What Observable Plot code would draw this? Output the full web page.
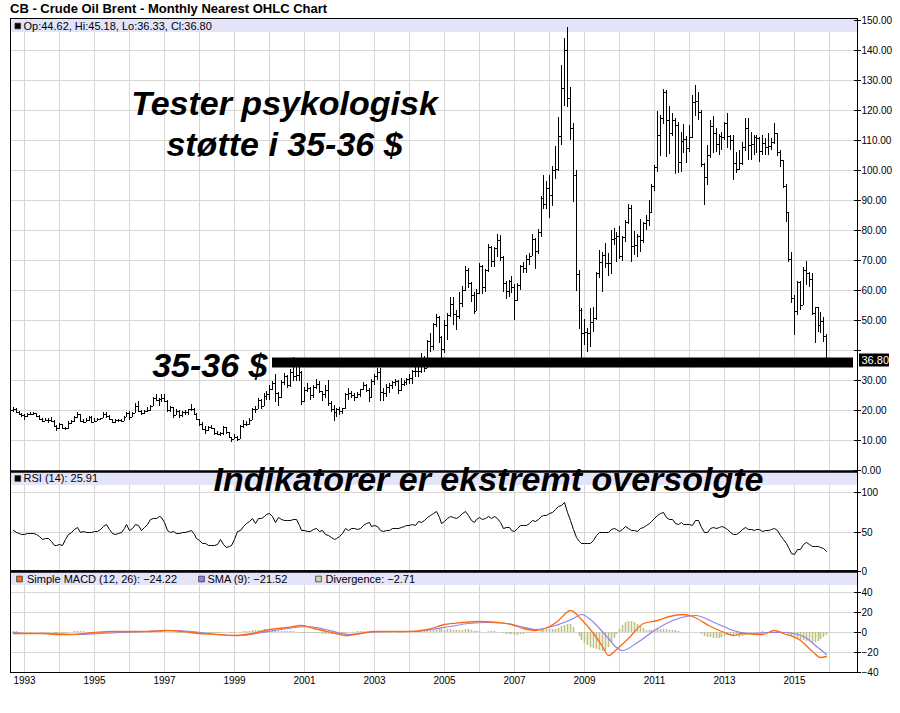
<!DOCTYPE html>
<html><head><meta charset="utf-8">
<script src="https://cdn.jsdelivr.net/npm/d3@7"></script>
<script src="https://cdn.jsdelivr.net/npm/@observablehq/plot@0.6"></script>
<style>
body{margin:0;background:#fff;}
#wrap{position:relative;width:900px;height:713px;overflow:hidden;font-family:'Liberation Sans',Arial,sans-serif;}
#title{position:absolute;left:10px;top:1px;font-size:13px;font-weight:bold;color:#000;white-space:nowrap;}
#wrap svg{position:absolute;left:0;top:0;}
</style></head><body>
<div id="wrap"><div id="title"></div></div>
<script>
// ---------------- DATA ----------------
const titleText = "CB - Crude Oil Brent - Monthly Nearest OHLC Chart";
const startMonth = "1992-09";
const opens = [
 19.9,20.4,19.4,18.8,
 18.2,18.0,18.6,18.8,18.9,18.0,17.1,16.5,16.8,16.8,16.5,14.6,
 13.9,15.2,13.9,13.9,15.6,16.2,17.6,18.6,16.4,16.1,16.6,17.8,
 15.9,16.4,17.1,17.2,18.8,17.9,16.9,16.1,16.6,16.8,16.4,17.8,
 19.1,17.8,19.0,21.2,19.6,19.0,19.6,20.0,21.4,24.0,23.5,23.7,
 24.0,23.0,20.0,20.9,18.5,19.7,18.2,19.3,19.5,20.3,20.3,18.8,
 16.9,15.4,13.7,13.3,14.3,14.1,12.4,12.0,12.2,14.2,12.6,10.9,
 10.3,11.1,10.4,14.6,15.5,15.2,16.8,20.2,20.5,23.2,21.4,24.7,
 25.2,27.1,29.0,25.6,24.2,29.5,31.5,28.3,32.7,31.2,31.6,32.7,
 23.0,26.6,27.3,25.1,27.6,28.8,26.2,25.5,26.8,22.5,20.4,19.2,
 20.4,19.6,20.6,25.5,25.7,24.9,24.3,25.4,26.9,28.4,26.8,24.2,
 29.7,31.3,32.8,26.0,25.6,27.6,28.4,29.3,29.7,26.8,28.8,29.3,
 30.2,30.5,33.0,33.0,33.0,37.4,33.9,43.1,41.5,48.8,50.9,44.4,
 40.5,48.2,51.8,55.4,52.0,51.2,55.6,59.9,66.7,62.4,58.2,53.1,
 58.9,67.9,61.1,66.6,74.3,69.8,73.9,76.6,71.0,62.5,59.6,63.0,
 61.0,56.6,61.8,68.0,67.4,70.2,71.4,77.1,73.0,79.2,90.8,88.7,
 93.9,91.8,100.1,100.3,111.4,127.4,140.0,123.9,114.1,98.2,65.3,53.5,
 45.6,45.9,45.6,49.2,50.8,65.6,69.3,71.7,69.0,69.1,76.9,77.3,
 77.9,71.2,77.6,82.7,87.4,74.6,75.0,78.0,76.7,82.3,83.2,85.9,
 94.8,101.0,111.8,117.4,125.9,116.7,112.5,116.7,114.9,102.8,109.6,110.5,
 107.4,111.0,122.7,122.9,119.5,101.9,97.8,104.9,114.6,112.4,108.7,111.2,
 111.1,115.6,111.4,110.0,102.4,100.4,102.2,107.7,114.0,108.4,108.8,110.9,
 110.8,106.4,109.1,107.8,108.1,109.4,112.4,106.0,103.2,94.7,85.9,70.2,
 57.3,53.0,62.6,55.1,66.8,65.6,63.6,52.2,54.2,48.4,49.6,44.62
];
const highs = [
 20.9,20.6,19.7,19.0,
 18.6,19.0,19.2,19.3,19.1,18.2,17.4,17.4,17.2,17.7,16.6,14.9,
 15.6,15.4,14.3,16.2,16.8,17.9,19.2,18.8,16.9,17.4,18.0,17.9,
 17.3,17.4,17.5,19.5,19.2,18.3,16.9,16.9,17.0,16.9,18.0,19.4,
 19.6,19.4,22.3,23.0,19.9,19.9,21.0,21.6,24.5,25.4,24.0,25.2,
 25.2,23.3,21.2,20.9,20.3,19.9,19.6,20.0,20.4,21.9,20.7,18.9,
 17.0,15.9,14.8,14.6,15.1,14.1,13.0,12.6,14.7,14.2,12.8,11.1,
 12.1,11.3,14.9,16.7,16.4,17.3,20.6,21.3,24.1,23.8,25.6,26.2,
 28.3,29.6,32.0,25.9,30.1,32.4,31.7,33.6,37.8,34.2,34.8,33.0,
 27.8,29.1,27.6,28.2,30.2,29.6,26.3,28.2,29.9,22.9,21.8,20.6,
 21.0,20.8,25.7,27.5,26.4,25.6,25.9,27.0,29.5,28.8,27.2,30.2,
 32.0,34.0,34.0,27.2,28.6,29.1,29.6,30.3,30.0,30.6,30.0,30.8,
 32.0,33.3,34.5,34.6,39.0,38.0,43.3,45.6,48.9,52.0,51.5,44.8,
 49.9,52.3,57.7,57.7,53.3,59.3,61.5,68.0,67.4,62.8,59.3,60.3,
 68.9,68.2,67.0,75.2,74.8,74.5,78.6,78.3,71.3,62.9,63.2,64.8,
 62.0,62.4,68.2,69.3,71.6,72.4,78.7,77.2,80.3,91.3,98.5,96.2,
 98.5,101.4,108.0,117.6,135.1,143.9,147.5,127.8,115.6,100.0,66.6,54.0,
 50.5,47.5,53.9,54.4,66.0,73.5,72.8,75.7,72.4,80.0,80.8,79.2,
 81.2,78.0,83.2,88.8,88.3,79.6,78.6,83.6,82.7,85.0,89.9,95.3,
 101.7,119.8,118.4,127.0,126.6,121.5,119.0,117.4,115.9,112.7,115.4,111.2,
 115.0,125.0,128.4,126.1,120.0,102.2,108.3,116.7,117.9,114.0,112.0,112.8,
 116.1,118.9,111.7,111.7,106.1,106.7,109.5,117.2,117.3,112.8,111.7,111.7,
 111.0,111.7,110.6,112.2,110.6,115.7,112.4,106.6,103.5,95.2,86.0,72.8,
 58.4,63.0,63.0,67.8,69.6,66.1,65.6,54.5,54.2,52.8,51.1,45.18
];
const lows = [
 19.5,19.0,18.6,17.6,
 16.8,17.8,18.2,18.3,17.9,16.8,16.0,16.3,15.8,16.2,14.3,13.1,
 13.6,13.6,13.2,13.7,15.4,16.0,17.4,16.2,15.6,15.9,16.5,15.6,
 15.9,16.3,16.7,17.2,17.5,16.6,15.6,15.8,16.1,15.9,16.3,17.8,
 16.6,17.6,18.9,19.2,18.3,18.7,19.2,19.7,21.3,23.0,21.4,22.6,
 22.6,19.4,19.4,17.3,18.4,17.4,17.8,18.3,18.3,19.7,18.4,16.7,
 14.8,13.5,12.1,13.1,13.6,11.6,11.7,11.4,11.8,12.1,10.6,9.5,
 10.2,9.8,10.4,14.0,14.7,15.0,16.7,19.1,20.3,20.5,21.3,23.4,
 23.4,26.6,22.6,21.4,24.0,28.3,27.3,27.8,29.8,29.6,29.6,21.8,
 22.7,26.1,23.3,24.0,27.1,25.6,23.1,24.1,21.4,19.3,16.5,17.7,
 18.3,18.6,20.2,23.2,24.0,22.9,23.9,24.4,26.6,26.1,22.6,24.0,
 28.3,29.9,23.0,23.0,24.4,25.6,27.0,28.0,25.5,26.5,27.9,28.4,
 28.6,28.6,30.9,31.0,32.5,32.6,33.9,39.4,40.0,47.6,42.4,37.5,
 39.0,43.4,51.1,48.5,46.7,50.5,54.2,59.6,60.6,56.0,52.0,53.0,
 58.7,58.6,59.5,66.0,67.6,67.6,71.0,69.6,59.5,57.0,57.8,59.0,
 50.0,56.3,60.0,65.6,65.6,68.2,71.3,67.0,72.0,77.6,87.0,86.9,
 84.1,88.0,97.1,99.8,108.3,121.3,120.9,110.0,89.4,59.6,47.0,36.2,
 41.6,39.4,41.0,46.0,50.1,64.0,59.2,67.3,64.6,65.4,75.1,69.5,
 70.2,69.6,76.0,82.1,69.3,71.6,71.1,72.8,75.6,80.1,81.3,85.6,
 92.9,99.5,104.6,115.5,104.2,105.4,111.4,98.7,98.9,99.3,105.6,102.2,
 106.0,110.7,118.0,116.7,101.1,88.3,95.0,103.9,105.6,106.1,105.0,106.7,
 110.0,107.3,106.7,96.7,98.9,100.0,101.7,106.5,103.4,103.4,105.0,105.6,
 102.8,105.0,105.0,105.0,106.7,108.8,104.8,101.1,93.9,82.8,69.5,55.6,
 45.0,51.7,53.3,55.0,61.7,61.1,51.7,42.2,46.1,45.6,42.8,36.33
];
const closes = [
 20.4,19.4,18.8,18.2,
 18.0,18.6,18.8,18.9,18.0,17.1,16.5,16.8,16.8,16.5,14.6,13.9,
 15.2,13.9,13.9,15.6,16.2,17.6,18.6,16.4,16.1,16.6,17.8,15.9,
 16.4,17.1,17.2,18.8,17.9,16.9,16.1,16.6,16.8,16.4,17.8,19.1,
 17.8,19.0,21.2,19.6,19.0,19.6,20.0,21.4,24.0,23.5,23.7,24.0,
 23.0,20.0,20.9,18.5,19.7,18.2,19.3,19.5,20.3,20.3,18.8,16.9,
 15.4,13.7,13.3,14.3,14.1,12.4,12.0,12.2,14.2,12.6,10.9,10.3,
 11.1,10.4,14.6,15.5,15.2,16.8,20.2,20.5,23.2,21.4,24.7,25.2,
 27.1,29.0,25.6,24.2,29.5,31.5,28.3,32.7,31.2,31.6,32.7,23.0,
 26.6,27.3,25.1,27.6,28.8,26.2,25.5,26.8,22.5,20.4,19.2,20.4,
 19.6,20.6,25.5,25.7,24.9,24.3,25.4,26.9,28.4,26.8,24.2,29.7,
 31.3,32.8,26.0,25.6,27.6,28.4,29.3,29.7,26.8,28.8,29.3,30.2,
 30.5,33.0,33.0,33.0,37.4,33.9,43.1,41.5,48.8,50.9,44.4,40.5,
 48.2,51.8,55.4,52.0,51.2,55.6,59.9,66.7,62.4,58.2,53.1,58.9,
 67.9,61.1,66.6,74.3,69.8,73.9,76.6,71.0,62.5,59.6,63.0,61.0,
 56.6,61.8,68.0,67.4,70.2,71.4,77.1,73.0,79.2,90.8,88.7,93.9,
 91.8,100.1,100.3,111.4,127.4,140.0,123.9,114.1,98.2,65.3,53.5,45.6,
 45.9,45.6,49.2,50.8,65.6,69.3,71.7,69.0,69.1,76.9,77.3,77.9,
 71.2,77.6,82.7,87.4,74.6,75.0,78.0,76.7,82.3,83.2,85.9,94.8,
 101.0,111.8,117.4,125.9,116.7,112.5,116.7,114.9,102.8,109.6,110.5,107.4,
 111.0,122.7,122.9,119.5,101.9,97.8,104.9,114.6,112.4,108.7,111.2,111.1,
 115.6,111.4,110.0,102.4,100.4,102.2,107.7,114.0,108.4,108.8,110.9,110.8,
 106.4,109.1,107.8,108.1,109.4,112.4,106.0,103.2,94.7,85.9,70.2,57.3,
 53.0,62.6,55.1,66.8,65.6,63.6,52.2,54.2,48.4,49.6,44.6,36.80
];
const rsiValues = [
 52,49,47.5,46.5,47,48,48.7,48.5,47,44,
 41,42,42,38,33.5,32.5,33.7,32.5,41,46.5,
 49,53,56,49.5,50.2,50,49.5,50,50.4,50.4,
 53,57,60,53,48,47,47.5,50,54,59.5,
 51.5,55,60,58,52.5,56,59.5,66,67.5,67,
 69.5,68,62,51.5,49.5,51,48,48.5,49,49,
 51,52,47,41.5,38.7,36,35,33.5,32.3,32.6,
 34.5,40.5,33.8,31,31.3,33.5,40,51,52.5,56.5,
 60.5,63,66.5,60.5,67,67.5,69,71.7,73.3,70,
 62.5,68,65.7,64,64.5,65,65.3,65.5,58,51.5,
 52.2,50.5,50.5,53,54,51,51.5,47,45.3,42.5,
 41,41.8,44,48,54,52,55,55,53.3,55,
 58.8,61.2,62.3,57.5,57.8,56.7,52.5,51,52.3,52,
 54,54,54.8,55.7,57,58,58.5,59.7,58.2,63.5,
 61.5,64,68,71.5,74,76,68.7,61,63.5,66.5,
 70,68,67,70,74,76,70.5,65,61.5,65.3,
 68.5,65.5,66.5,69,67.2,69.3,67,62.3,55,55.5,
 55.5,52.5,50.7,54.5,57.7,58.7,58.7,60.7,64.7,63.5,
 65.5,70,70.8,71.5,73.6,74.2,78,81.7,83.6,87,
 75.3,64,53,43.5,38,35.7,35.3,35.4,36,39.3,
 46,49.5,50,49.6,50,52.6,54.5,53.2,50.6,53,
 56.7,55,51.7,52,51.2,54.2,55.4,57.8,60.3,63.5,
 67,70.5,73.6,74.8,68.3,65.2,65.3,60.3,59,61.5,
 60,59,60,58.5,65,64.2,56,49.5,50,54.7,
 56,54.7,55.7,57.2,55.3,53,50,47.2,46.5,48.8,
 53,56.3,53.2,52.7,52.2,52.7,53.3,50.3,52.3,51.5,
 52.7,55,51.5,46,40.3,35.2,29.8,23.2,20.9,28,
 27.5,34.3,36.6,34.2,31.5,31.4,31.9,30,29.2,25.91
];
const divergenceValues = [
 1.0,0.8,0.5,0.2,
 0,-0.3,-0.5,-0.4,-0.3,-0.3,-0.5,-0.6,-0.5,-0.4,-0.6,-0.9,
 -1.0,-0.9,-0.6,-0.2,0.3,0.7,1.0,0.9,0.6,0.4,0.3,0.2,
 0.1,0.1,0.2,0.4,0.4,0.1,-0.2,-0.3,-0.3,-0.2,0,0.3,
 0.4,0.5,0.7,0.7,0.5,0.4,0.4,0.5,0.8,1.0,1.0,0.9,
 0.6,0.2,-0.1,-0.4,-0.5,-0.6,-0.6,-0.5,-0.4,-0.3,-0.4,-0.7,
 -1.0,-1.2,-1.2,-1.0,-0.8,-0.8,-0.7,-0.6,-0.4,-0.3,-0.4,-0.5,
 -0.5,-0.4,0.1,0.6,1.0,1.4,1.9,2.2,2.5,2.5,2.6,2.5,
 2.4,2.2,1.6,1.0,0.9,1.0,0.8,0.8,0.7,0.5,0.3,-0.5,
 -0.8,-1.1,-1.4,-1.4,-1.3,-1.4,-1.5,-1.6,-2.0,-2.2,-2.4,-2.2,
 -1.9,-1.6,-0.8,-0.2,0.2,0.5,0.8,1.1,1.4,1.4,1.1,1.2,
 1.4,1.5,0.9,0.2,-0.2,-0.4,-0.4,-0.4,-0.6,-0.6,-0.4,-0.2,
 0,0.4,0.6,0.8,1.2,1.2,1.8,2.2,3.0,3.6,3.3,2.6,
 2.5,2.6,2.8,2.5,1.9,2.0,2.2,2.8,2.6,2.0,1.0,0.6,
 0.7,0.4,0.4,0.8,0.8,0.6,0.5,0.2,-0.8,-1.8,-2.2,-2.4,
 -2.8,-2.7,-2.0,-1.6,-1.2,-1.0,-0.3,-0.2,0.3,1.6,2.3,2.8,
 3.0,3.4,3.5,4.5,6.0,7.5,8.0,8.5,5.0,0.5,-4.0,-7.5,
 -10.5,-12.5,-14.5,-16.0,-17.0,-18.0,-18.5,-19.0,-15.0,-10.0,-6.0,-2.0,
 3.0,7.0,10.0,11.5,11.5,10.5,8.5,6.0,4.0,2.5,2.0,2.0,
 2.5,3.0,3.2,3.5,3.0,2.5,2.2,2.0,1.0,0.5,0.3,0.2,
 0,0.2,0.5,0.3,-1.5,-3.5,-4.5,-5.0,-5.5,-6.0,-5.5,-4.5,
 -3.5,-2.5,-2.5,-3.5,-4.0,-4.5,-3.5,-2.5,-1.5,-0.8,-0.4,0.2,
 0.4,0.6,0.4,0.3,0.3,0.5,0.8,0.6,0.2,-0.8,-2.2,-4.0,
 -5.5,-6.5,-7.5,-8.0,-8.5,-9.0,-9.5,-10.0,-9.0,-7.0,-5.0,-2.71
];
const macdMonths = ["1992-09","1993-01","1993-07","1994-01","1994-05","1995-01","1995-07","1996-01","1996-07","1997-01","1997-07","1998-01","1998-07","1999-01","1999-07","2000-01","2000-07","2000-12","2001-04","2001-10","2002-03","2002-08","2003-01","2003-07","2004-01","2004-07","2005-01","2005-07","2006-01","2006-07","2006-12","2007-04","2007-08","2008-01","2008-04","2008-08","2008-12","2009-04","2009-07","2009-09","2009-12","2010-04","2010-09","2011-02","2011-06","2011-11","2012-02","2012-08","2013-01","2013-04","2013-07","2014-02","2014-06","2014-09","2015-03","2015-07","2015-10","2015-12"];
const macdValues = [-0.5,-1.0,-0.5,-1.5,-1.5,-0.3,0.7,0.8,1.2,2.3,1.5,-0.7,-2.0,-3.0,-0.5,3.0,5.5,7.0,4.5,0,-2.5,-1.0,1.5,1.5,1.5,3.5,8.0,10.0,11.0,10.5,8.0,4.0,1.7,6.0,12.5,22.0,12.7,-0.7,-14,-23.3,-17.3,-5.7,9.3,12.0,16.0,18.3,16.0,6.0,0.5,-3.3,-0.7,-1.7,2.0,-0.7,-8.3,-19.0,-24.7,-24.22];
const signalMonths = ["1992-09","1993-03","1993-10","1994-06","1995-03","1995-10","1996-07","1997-03","1997-10","1998-07","1999-03","1999-10","2000-05","2001-02","2001-08","2002-04","2002-11","2003-07","2004-03","2004-10","2005-03","2005-09","2006-04","2006-10","2007-03","2007-08","2008-04","2008-09","2008-12","2009-03","2009-06","2009-09","2009-12","2010-02","2010-07","2011-02","2011-08","2012-03","2012-10","2013-05","2013-09","2014-04","2014-09","2015-04","2015-08","2015-12"];
const signalValues = [-0.3,-0.7,-1.0,-1.6,-0.5,0.5,0.8,1.8,0.8,-1.5,-2.8,0.3,3.5,6.5,3.0,-2.0,0.0,1.5,1.5,4.5,6.0,9.0,10.3,9.3,6.5,3.3,7.7,14,17.7,13,4.3,-6,-14.7,-18,-10,4.3,12.7,16.7,9.3,1,-0.7,0,0.3,-4,-13.3,-21.52];

const priceTicks = [0,10,20,30,40,50,60,70,80,90,100,110,120,130,140,150];
const rsiTicks = [0,50,100];
const macdTicks = [-40,-20,0,20,40];
const gridYears = [1993,1994,1995,1996,1997,1998,1999,2000,2001,2002,2003,2004,2005,2006,2007,2008,2009,2010,2011,2012,2013,2014,2015,2016];
const labelYears = [1993,1995,1997,1999,2001,2003,2005,2007,2009,2011,2013,2015];
const legendPrice = "Op:44.62, Hi:45.18, Lo:36.33, Cl:36.80";
const legendRsi = "RSI (14): 25.91";
const legendMacd = ["Simple MACD (12, 26): \u221224.22", "SMA (9): \u221221.52", "Divergence: \u22122.71"];
const lastPriceLabel = "36.80";
const supportLevel = 36, supportFrom = "2000-02", supportTo = "2016-09";
const headlineNotes = [
  {month: "2000-06", value: 122, text: "Tester psykologisk"},
  {month: "2000-06", value: 108.3, text: "st\u00f8tte i 35-36 $"}
];
const levelNotes = [{month: "2000-01", value: 34.7, text: "35-36 $"}];
const rsiNotes = [{month: "2006-04", value: 114.6, text: "Indikatorer er ekstremt oversolgte"}];

// ---------------- BUILD ----------------
document.getElementById("title").textContent = titleText;
const FONT = "'Liberation Sans', Arial, sans-serif";
const GRID = "#d6d6d6", BAND = "#e4e4f9";
const parseMonth = d3.utcParse("%Y-%m");
const t0 = parseMonth(startMonth);
const bars = closes.map((c, i) => ({date: d3.utcMonth.offset(t0, i), open: opens[i], high: highs[i], low: lows[i], close: c, rsi: rsiValues[i], div: divergenceValues[i]}));
const last = bars[bars.length - 1];
const macdPts = macdMonths.map((m, i) => ({date: parseMonth(m), v: macdValues[i]}));
const sigPts = signalMonths.map((m, i) => ({date: parseMonth(m), v: signalValues[i]}));
const xDomain = [new Date(Date.UTC(1992, 7, 3)), new Date(Date.UTC(2016, 9, 16))];
const gridDates = gridYears.map(y => new Date(Date.UTC(y, 0, 1)));
const labelDates = labelYears.map(y => new Date(Date.UTC(y, 0, 1)));

// panel geometry (page pixels)
const G = {
  price: {top: 18, bottom: 471, zero: 470, ppu: 3},
  rsi: {top: 471, bottom: 571, zero: 571, ppu: 0.79},
  macd: {top: 571, bottom: 672, zero: 632, ppu: 1}
};
const val = (g, px) => (g.zero - px) / g.ppu;
const yDom = g => [val(g, g.bottom), val(g, g.top)];
const minus = v => v < 0 ? "\u2212" + Math.abs(v) : String(v);

function band(g) {
  return Plot.rect([0], {x1: () => xDomain[0], x2: () => xDomain[1], y1: () => val(g, g.top + 14), y2: () => val(g, g.top + 1), fill: BAND});
}
function square(dx, dy, fill) {
  return Plot.dot([0], {frameAnchor: "top-left", dx, dy, symbol: "square", r: 3.2, fill, stroke: "#333", strokeWidth: 0.8});
}
function label(text, dx, dy) {
  return Plot.text([text], {frameAnchor: "top-left", dx, dy, text: d => d, textAnchor: "start", lineAnchor: "middle", fontSize: 11, fill: "black"});
}
function innerTicks(ticks) {
  return Plot.ruleY(ticks, {x1: () => xDomain[1], x2: () => xDomain[1], insetLeft: -3, stroke: "black"});
}
function make(g, marks, yOpts, xOpts) {
  return Plot.plot({
    width: 900, height: 713,
    marginLeft: 10, marginRight: 43, marginTop: g.top, marginBottom: 713 - g.bottom,
    style: {background: "transparent", fontFamily: FONT, fontSize: "10px", color: "black", overflow: "visible"},
    x: Object.assign({type: "utc", domain: xDomain, round: true, axis: null}, xOpts || {}),
    y: Object.assign({domain: yDom(g), round: true, axis: "right", tickSize: 3, tickPadding: 1, label: null}, yOpts),
    marks
  });
}

const wrap = document.getElementById("wrap");
const bold = {fontSize: 34, fontWeight: "bold", fontStyle: "italic", fill: "black", fontFamily: FONT, lineAnchor: "middle"};

// Price panel
const pricePlot = make(G.price, [
  Plot.ruleX(gridDates, {stroke: GRID}),
  Plot.ruleY(priceTicks.filter(v => v > 0 && v < 150), {stroke: GRID}),
  band(G.price),
  square(7.3, 7.5, "black"),
  label(legendPrice, 13, 7.5),
  Plot.ruleX(bars, {x: "date", y1: "low", y2: "high", stroke: "black"}),
  Plot.ruleY(bars, {x1: "date", x2: "date", y: "open", insetLeft: -2, stroke: "black"}),
  Plot.ruleY(bars, {x1: "date", x2: "date", y: "close", insetRight: -2, stroke: "black"}),
  Plot.ruleY([supportLevel], {x1: () => parseMonth(supportFrom), x2: () => parseMonth(supportTo), stroke: "black", strokeWidth: 10}),
  Plot.text(headlineNotes, {x: d => parseMonth(d.month), y: "value", text: "text", textAnchor: "middle", ...bold}),
  Plot.text(levelNotes, {x: d => parseMonth(d.month), y: "value", text: "text", textAnchor: "end", dx: -2, ...bold}),
  Plot.rect([last], {x1: () => xDomain[1], x2: () => xDomain[1], y1: "close", y2: "close", insetLeft: 2, insetRight: -32, insetTop: -6.5, insetBottom: -6.5, fill: "black"}),
  Plot.text([last], {x: () => xDomain[1], y: "close", text: () => lastPriceLabel, dx: 4, textAnchor: "start", fill: "white", fontSize: 11}),
  Plot.frame({stroke: "black"}),
  innerTicks(priceTicks)
], {ticks: priceTicks, tickFormat: v => Math.abs(v - last.close) < 5 ? "" : d3.format(".2f")(v)});
wrap.appendChild(pricePlot);

// RSI panel
const rsiPlot = make(G.rsi, [
  Plot.ruleX(gridDates, {stroke: GRID}),
  Plot.ruleY([50, 100], {stroke: GRID}),
  band(G.rsi),
  square(7.3, 7, "black"),
  label(legendRsi, 13, 7),
  Plot.line(bars, {x: "date", y: "rsi", stroke: "black", strokeWidth: 1}),
  Plot.frame({stroke: "black"}),
  Plot.ruleY([yDom(G.rsi)[1]], {stroke: "black", strokeWidth: 2.5}),
  Plot.ruleY([0], {stroke: "black", strokeWidth: 2.5}),
  innerTicks(rsiTicks),
  Plot.text(rsiNotes, {x: d => parseMonth(d.month), y: "value", text: "text", textAnchor: "middle", ...bold})
], {ticks: rsiTicks, tickFormat: minus});
wrap.appendChild(rsiPlot);

// MACD panel
const macdPlot = make(G.macd, [
  Plot.ruleX(gridDates, {stroke: GRID}),
  Plot.ruleY([-20, 0, 20, 40], {stroke: GRID}),
  band(G.macd),
  square(9, 7.5, "#ff6a10"), label(legendMacd[0], 16.5, 7.5),
  square(191, 7.5, "#8f80f0"), label(legendMacd[1], 197, 7.5),
  square(308, 7.5, "#d6d6ae"), label(legendMacd[2], 315, 7.5),
  Plot.ruleX(bars, {x: "date", y1: 0, y2: "div", stroke: "#bebe84", strokeWidth: 1.6}),
  Plot.line(sigPts, {x: "date", y: "v", stroke: "#8f80f0", strokeWidth: 1.2, curve: "monotone-x"}),
  Plot.line(macdPts, {x: "date", y: "v", stroke: "#ff6a10", strokeWidth: 1.3, curve: "monotone-x"}),
  Plot.frame({stroke: "black"}),
  Plot.ruleY([yDom(G.macd)[1]], {stroke: "black", strokeWidth: 2.5}),
  innerTicks(macdTicks)
], {ticks: macdTicks, tickFormat: minus},
{axis: "bottom", ticks: labelDates, tickFormat: d3.utcFormat("%Y"), tickSize: 0, tickPadding: 4, label: null});
wrap.appendChild(macdPlot);
</script>
</body></html>
